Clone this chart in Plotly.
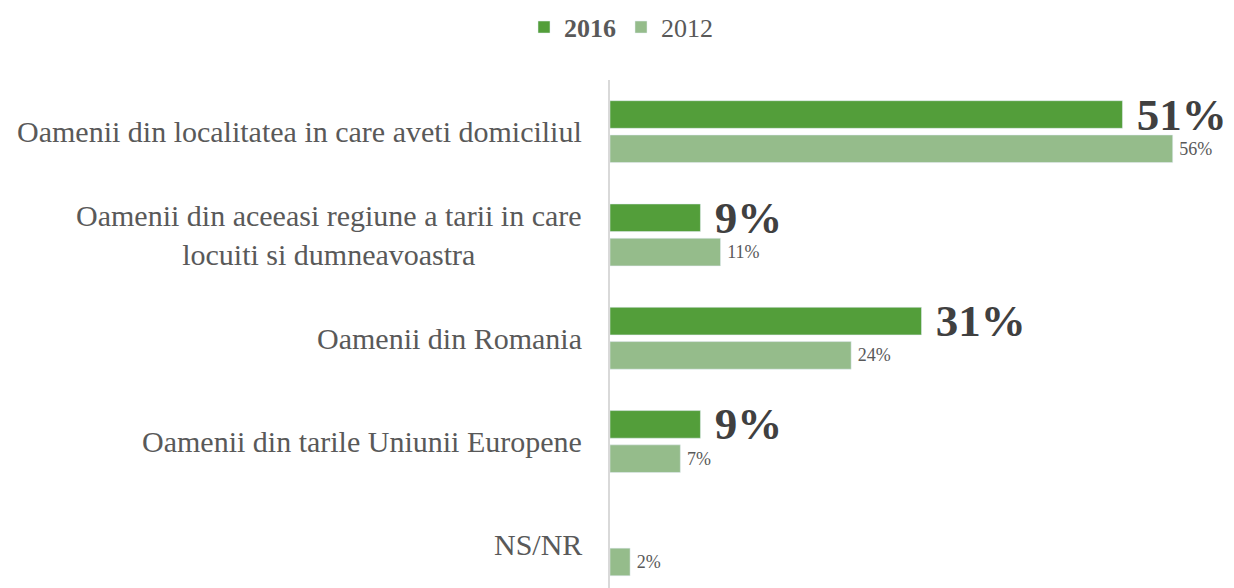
import plotly.graph_objects as go

categories = [
    "Oamenii din localitatea in care aveti domiciliul",
    "Oamenii din aceeasi regiune a tarii in care<br>locuiti si dumneavoastra",
    "Oamenii din Romania",
    "Oamenii din tarile Uniunii Europene",
    "NS/NR",
]
values_2016 = [51, 9, 31, 9, None]
values_2012 = [56, 11, 24, 7, 2]

FONT = "Liberation Serif"
pos = list(range(len(categories)))

fig = go.Figure()
fig.add_trace(go.Bar(
    y=pos, x=values_2016, orientation="h", name="<b>2016</b>",
    marker=dict(color="#539E3A"),
    text=[f"\u00a0{v}%" if v is not None else "" for v in values_2016],
    textposition="outside", cliponaxis=False, constraintext="none",
    textfont=dict(family=FONT, size=45, color="#404040", weight="bold"),
))
fig.add_trace(go.Bar(
    y=pos, x=values_2012, orientation="h", name="2012",
    marker=dict(color="#95BC8B"),
    text=[f"\u2009{v}%" for v in values_2012],
    textposition="outside", cliponaxis=False, constraintext="none",
    textfont=dict(family=FONT, size=18, color="#595959"),
))

for i, c in enumerate(categories):
    fig.add_annotation(
        x=0, xref="paper", y=i, yref="y", text=c, showarrow=False,
        xanchor="right", yanchor="middle", align="center", xshift=-26,
        font=dict(family=FONT, size=30, color="#595959"),
    )

# page body adds an 8px offset, so the figure is sized to end at the window edge
fig.update_layout(
    width=1226, height=580,
    margin=dict(l=602, r=0, t=72, b=0),
    paper_bgcolor="white", plot_bgcolor="white",
    barmode="group", bargap=0.336, bargroupgap=0.195,
    showlegend=True,
    legend=dict(orientation="h", x=0.5, xref="container", xanchor="center",
                y=0.967, yref="container", yanchor="middle",
                font=dict(family=FONT, size=26, color="#595959")),
    xaxis=dict(range=[0, 62.1], showgrid=False, zeroline=False, showticklabels=False, showline=False),
    yaxis=dict(range=[4.418, -0.5], showgrid=False, zeroline=False, showticklabels=False,
               showline=True, linecolor="#D9D9D9", linewidth=2, ticks=""),
)

fig.write_html("out.html")
